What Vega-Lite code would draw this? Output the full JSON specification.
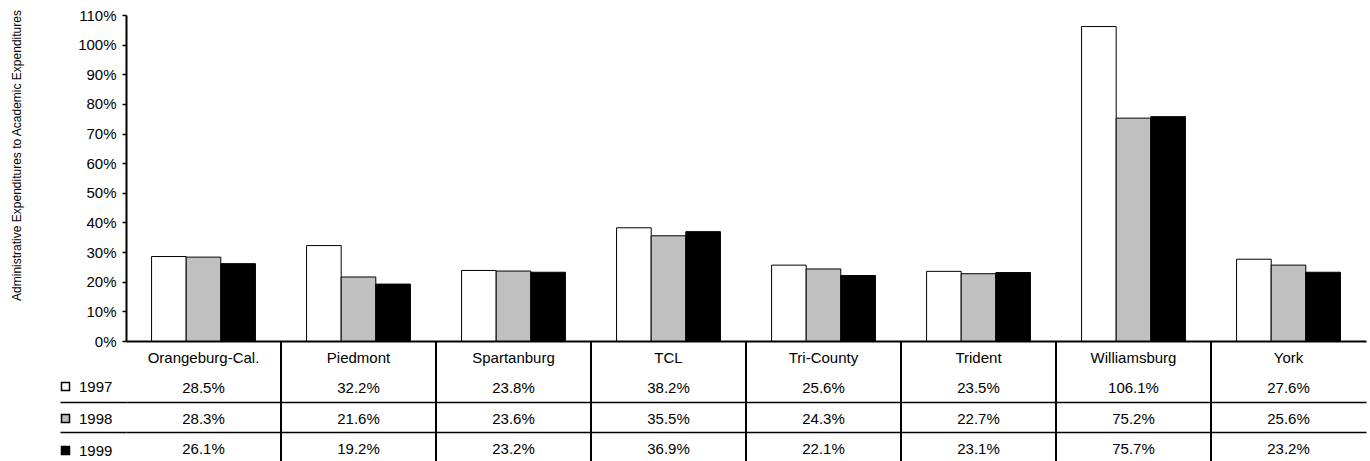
{
  "$schema": "https://vega.github.io/schema/vega-lite/v6.json",
  "padding": {"left": 9, "top": 8, "right": 5, "bottom": 0},
  "background": "white",
  "config": {
    "font": "Liberation Sans",
    "view": {"stroke": null},
    "axis": {"labelColor": "black", "titleColor": "black", "domainColor": "black", "tickColor": "black"}
  },
  "datasets": {
    "rows": [
      {"college": "Orangeburg-Cal.", "year": "1997", "value": 0.285},
      {"college": "Orangeburg-Cal.", "year": "1998", "value": 0.283},
      {"college": "Orangeburg-Cal.", "year": "1999", "value": 0.261},
      {"college": "Piedmont", "year": "1997", "value": 0.322},
      {"college": "Piedmont", "year": "1998", "value": 0.216},
      {"college": "Piedmont", "year": "1999", "value": 0.192},
      {"college": "Spartanburg", "year": "1997", "value": 0.238},
      {"college": "Spartanburg", "year": "1998", "value": 0.236},
      {"college": "Spartanburg", "year": "1999", "value": 0.232},
      {"college": "TCL", "year": "1997", "value": 0.382},
      {"college": "TCL", "year": "1998", "value": 0.355},
      {"college": "TCL", "year": "1999", "value": 0.369},
      {"college": "Tri-County", "year": "1997", "value": 0.256},
      {"college": "Tri-County", "year": "1998", "value": 0.243},
      {"college": "Tri-County", "year": "1999", "value": 0.221},
      {"college": "Trident", "year": "1997", "value": 0.235},
      {"college": "Trident", "year": "1998", "value": 0.227},
      {"college": "Trident", "year": "1999", "value": 0.231},
      {"college": "Williamsburg", "year": "1997", "value": 1.061},
      {"college": "Williamsburg", "year": "1998", "value": 0.752},
      {"college": "Williamsburg", "year": "1999", "value": 0.757},
      {"college": "York", "year": "1997", "value": 0.276},
      {"college": "York", "year": "1998", "value": 0.256},
      {"college": "York", "year": "1999", "value": 0.232}
    ]
  },
  "bounds": "flush",
  "spacing": 0,
  "vconcat": [
    {
      "width": 1240,
      "height": 326,
      "data": {"name": "rows"},
      "mark": {"type": "bar", "stroke": "black", "strokeWidth": 1},
      "encoding": {
        "x": {
          "field": "college", "type": "nominal",
          "scale": {"domain": ["Orangeburg-Cal.", "Piedmont", "Spartanburg", "TCL", "Tri-County", "Trident", "Williamsburg", "York"], "paddingInner": 0.33, "paddingOuter": 0.165},
          "axis": {"title": null, "labels": false, "ticks": false, "domainWidth": 2}
        },
        "xOffset": {"field": "year", "type": "nominal", "scale": {"paddingInner": 0, "paddingOuter": 0}},
        "y": {
          "field": "value", "type": "quantitative",
          "scale": {"domain": [0, 1.1], "nice": false},
          "axis": {
            "values": [0, 0.1, 0.2, 0.3, 0.4, 0.5, 0.6, 0.7, 0.8, 0.9, 1.0, 1.1],
            "format": ".0%",
            "title": "Administrative Expenditures to Academic Expenditures",
            "titleFontSize": 12, "titleFontWeight": "normal",
            "titleX": -103, "titleY": 140,
            "labelFontSize": 15, "tickSize": 4, "labelPadding": 6,
            "domainWidth": 2, "tickWidth": 1.5, "grid": false
          }
        },
        "color": {
          "field": "year", "type": "nominal",
          "scale": {"domain": ["1997", "1998", "1999"], "range": ["#ffffff", "#c0c0c0", "#000000"]},
          "legend": {
            "orient": "none", "legendX": -68, "legendY": 364, "title": null,
            "symbolType": "square", "symbolSize": 64, "symbolStrokeColor": "black", "symbolStrokeWidth": 1.5,
            "labelFontSize": 15, "labelColor": "black", "rowPadding": 16, "labelOffset": 6
          }
        }
      }
    },
    {
      "width": 1240,
      "height": 121,
      "data": {"name": "rows"},
      "encoding": {
        "x": {
          "field": "college", "type": "nominal",
          "scale": {"domain": ["Orangeburg-Cal.", "Piedmont", "Spartanburg", "TCL", "Tri-County", "Trident", "Williamsburg", "York"], "paddingInner": 0, "paddingOuter": 0},
          "axis": null
        }
      },
      "layer": [
        {
          "mark": {"type": "text", "fontSize": 15, "color": "black", "dy": 2},
          "encoding": {
            "y": {
              "field": "year", "type": "nominal",
              "scale": {"domain": ["name", "1997", "1998", "1999"], "paddingInner": 0, "paddingOuter": 0},
              "axis": {"values": ["1998", "1999"], "tickBand": "extent", "grid": true, "gridColor": "black", "gridOpacity": 1, "gridWidth": 1.3, "ticks": true, "tickSize": 66, "tickWidth": 1.3, "labels": false, "domain": false, "title": null}
            },
            "text": {"field": "value", "format": ".1%"}
          }
        },
        {
          "transform": [{"filter": "datum.year == '1997'"}],
          "mark": {"type": "text", "fontSize": 15, "color": "black", "dy": 2},
          "encoding": {
            "y": {"datum": "name", "type": "nominal"},
            "text": {"field": "college"}
          }
        },
        {
          "transform": [{"filter": "datum.year == '1997' && datum.college != 'Orangeburg-Cal.'"}],
          "mark": {"type": "rule", "strokeWidth": 2, "color": "black"},
          "encoding": {"x": {"field": "college", "type": "nominal", "bandPosition": 0}}
        }
      ]
    }
  ]
}
